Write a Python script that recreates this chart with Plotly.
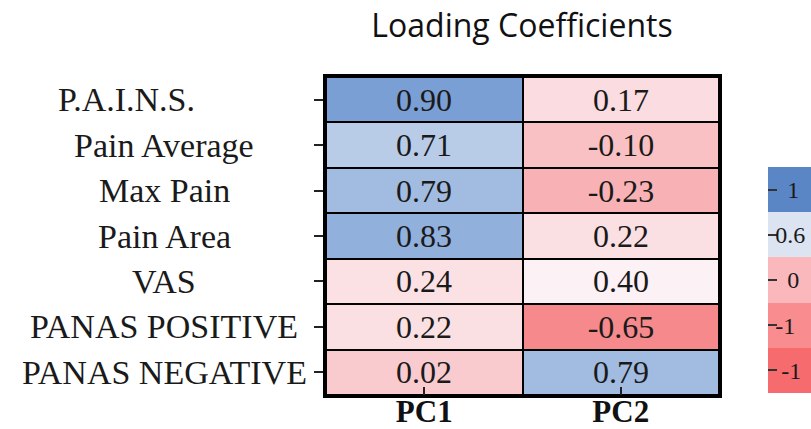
import plotly.graph_objects as go

# ---- data ----
variables = ["P.A.I.N.S.", "Pain Average", "Max Pain", "Pain Area", "VAS",
             "PANAS POSITIVE", "PANAS NEGATIVE"]
components = ["PC1", "PC2"]
pc1 = [0.90, 0.71, 0.79, 0.83, 0.24, 0.22, 0.02]
pc2 = [0.17, -0.10, -0.23, 0.22, 0.40, -0.65, 0.79]
title_text = "Loading Coefficients"

legend_levels = [0, 1, 2, 3, 4]
legend_labels = ["-1", "-1", "0", "0.6", "1"]

# ---- styles ----
W, H = 811, 429
SERIF = "Liberation Serif, Times New Roman, serif"
ZMIN, ZMAX = -0.65, 0.90
anchors = [(-0.65, "#f5898c"), (-0.23, "#f8b2b5"), (-0.10, "#f9c1c4"),
           (0.02, "#f9cbcf"), (0.17, "#fbdce0"), (0.24, "#fbe1e4"),
           (0.40, "#fcf1f4"), (0.71, "#b8cce8"), (0.79, "#a2bbe1"),
           (0.83, "#91b0dc"), (0.90, "#7a9fd4")]
colorscale = [[(v - ZMIN) / (ZMAX - ZMIN), c] for v, c in anchors]
legend_colors = ["#f66b6e", "#f88c8f", "#fbb8bc", "#dce4f2", "#5a86c5"]
legend_scale = [[i / 4, c] for i, c in enumerate(legend_colors)]
legend_pad = [1, 0, 2, 0, 2]
legend_text = ["\u00a0" * p + t for p, t in zip(legend_pad, legend_labels)]

z = [[a, b] for a, b in zip(pc1, pc2)]
text = [["%.2f" % a, "%.2f" % b] for a, b in zip(pc1, pc2)]

fig = go.Figure()
fig.add_trace(go.Heatmap(
    z=z, x=components, y=variables, text=text, texttemplate="%{text}",
    textfont=dict(family=SERIF, size=32, color="#1a1a1a"),
    colorscale=colorscale, zmin=ZMIN, zmax=ZMAX, showscale=False,
    xgap=2, ygap=2, hoverinfo="skip", xaxis="x", yaxis="y"))

fig.add_trace(go.Heatmap(
    z=[[v] for v in legend_levels], x=[0], y=legend_levels,
    colorscale=legend_scale, zmin=0, zmax=4, showscale=False,
    hoverinfo="skip", xaxis="x2", yaxis="y2"))

# centred row labels
for name in variables:
    label = name + ("\u00a0" * 9 if name == "P.A.I.N.S." else "")
    fig.add_annotation(x=164 / W, xref="paper", y=name, yref="y",
                       text=label, showarrow=False, xanchor="center",
                       font=dict(family=SERIF, size=34, color="#1a1a1a"))

fig.update_layout(
    width=W, height=H, margin=dict(l=0, r=0, t=0, b=0, autoexpand=False),
    paper_bgcolor="white", plot_bgcolor="black",
    title=dict(text=title_text, x=522 / W, xanchor="center",
               y=1 - 26 / H, yanchor="middle", automargin=False,
               font=dict(family="Open Sans, sans-serif", size=32, color="#111")),
    xaxis=dict(domain=[326 / W, 719 / W], side="bottom", showline=True,
               linecolor="black", linewidth=2.5, mirror=True,
               ticks="inside", ticklen=8, tickwidth=1.5, tickcolor="#222",
               ticklabelstandoff=-13, automargin=False,
               tickfont=dict(family=SERIF, size=31, color="#111", weight="bold"),
               showgrid=False, zeroline=False, fixedrange=True),
    yaxis=dict(domain=[1 - 395 / H, 1 - 77 / H], autorange="reversed",
               showline=True, linecolor="black", linewidth=2.5, mirror=True,
               ticks="outside", ticklen=9, tickwidth=1.5, tickcolor="#222",
               automargin=False,
               showticklabels=False, showgrid=False, zeroline=False),
    xaxis2=dict(domain=[768 / W, 1], anchor="y2", visible=False,
                range=[-0.5, 0.5], automargin=False),
    yaxis2=dict(domain=[1 - 393 / H, 1 - 167 / H], anchor="x2",
                range=[-0.5, 4.5], tickmode="array", tickvals=legend_levels,
                ticktext=legend_text, ticks="inside", ticklen=9,
                tickwidth=1.8, tickcolor="#333", ticklabelposition="inside",
                tickfont=dict(family=SERIF, size=24, color="#1a1a1a"),
                automargin=False,
                showline=False, showgrid=False, zeroline=False),
)

fig.write_html("out.html")
